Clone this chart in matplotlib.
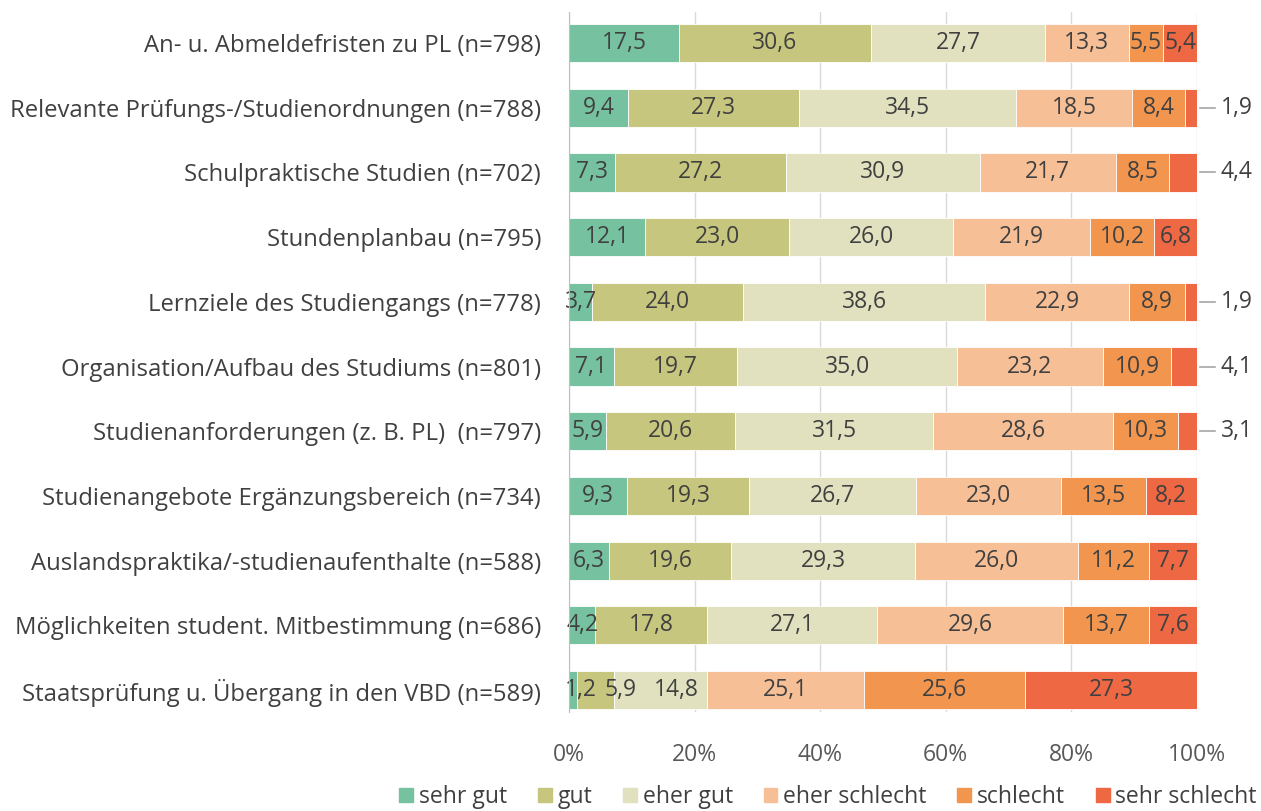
import matplotlib
matplotlib.use("Agg")
import matplotlib.pyplot as plt
import matplotlib.patches as mpatches
from matplotlib.ticker import FuncFormatter
import numpy as np

plt.rcParams["font.family"] = ["Open Sans", "DejaVu Sans"]

# ---- data ----
categories = [
    "An- u. Abmeldefristen zu PL (n=798)",
    "Relevante Prüfungs-/Studienordnungen (n=788)",
    "Schulpraktische Studien (n=702)",
    "Stundenplanbau (n=795)",
    "Lernziele des Studiengangs (n=778)",
    "Organisation/Aufbau des Studiums (n=801)",
    "Studienanforderungen (z. B. PL)  (n=797)",
    "Studienangebote Ergänzungsbereich (n=734)",
    "Auslandspraktika/-studienaufenthalte (n=588)",
    "Möglichkeiten student. Mitbestimmung (n=686)",
    "Staatsprüfung u. Übergang in den VBD (n=589)",
]
series = ["sehr gut", "gut", "eher gut", "eher schlecht", "schlecht", "sehr schlecht"]
sehr_gut = [17.5, 9.4, 7.3, 12.1, 3.7, 7.1, 5.9, 9.3, 6.3, 4.2, 1.2]
gut = [30.6, 27.3, 27.2, 23.0, 24.0, 19.7, 20.6, 19.3, 19.6, 17.8, 5.9]
eher_gut = [27.7, 34.5, 30.9, 26.0, 38.6, 35.0, 31.5, 26.7, 29.3, 27.1, 14.8]
eher_schlecht = [13.3, 18.5, 21.7, 21.9, 22.9, 23.2, 28.6, 23.0, 26.0, 29.6, 25.1]
schlecht = [5.5, 8.4, 8.5, 10.2, 8.9, 10.9, 10.3, 13.5, 11.2, 13.7, 25.6]
sehr_schlecht = [5.4, 1.9, 4.4, 6.8, 1.9, 4.1, 3.1, 8.2, 7.7, 7.6, 27.3]
# rows whose last value is written outside the bar with a leader line
outside_last = [False, True, True, False, True, True, True, False, False, False, False]

colors = ["#76C2A0", "#C6C67F", "#E1E1C0", "#F7BF96", "#F2964F", "#EE6843"]
TXT = "#404040"
FS = 16.5

# label nudges (points) for crowded labels: (row, series) -> dx
nudge = {(10, 0): 6, (10, 1): 18, (10, 2): 12}

values = np.array([sehr_gut, gut, eher_gut, eher_schlecht, schlecht, sehr_schlecht])
shares = values / values.sum(axis=0) * 100

fig = plt.figure(figsize=(12.61, 8.11), dpi=100)
ax = fig.add_axes([569 / 1261, 99 / 811, 628 / 1261, 700 / 811])

y = np.arange(len(categories))
left = np.zeros(len(categories))
for i, name in enumerate(series):
    ax.barh(y, shares[i], left=left, height=0.59, color=colors[i],
            edgecolor="white", linewidth=0.6, zorder=3, label=name)
    for j in range(len(categories)):
        lab = f"{values[i][j]:.1f}".replace(".", ",")
        if i == len(series) - 1 and outside_last[j]:
            ax.plot([100.5, 102.8], [j, j], color="#A6A6A6", lw=1.2,
                    clip_on=False, zorder=4)
            ax.text(103.8, j, lab, ha="left", va="center", fontsize=FS, color=TXT)
        else:
            ax.annotate(lab, (left[j] + shares[i][j] / 2, j),
                        xytext=(nudge.get((j, i), 0), 0), textcoords="offset points",
                        ha="center", va="center", fontsize=FS, color=TXT, zorder=5)
    left += shares[i]

ax.set_xlim(0, 100)
ax.set_ylim(10.34, -0.48)
ax.set_yticks(y)
ax.set_yticklabels(categories, fontsize=17.2, color=TXT)
ax.set_xticks(np.arange(0, 101, 20))
ax.xaxis.set_major_formatter(FuncFormatter(lambda v, p: f"{v:.0f}%"))
ax.tick_params(axis="x", labelsize=FS, labelcolor="#595959", length=0, pad=22)
ax.tick_params(axis="y", length=0, pad=20)
ax.grid(axis="x", color="#D9D9D9", lw=1, zorder=0)
for s in ["top", "right", "bottom"]:
    ax.spines[s].set_visible(False)
ax.spines["left"].set_color("#BFBFBF")
ax.spines["left"].set_zorder(6)

handles = [mpatches.Patch(color=c, label=s) for c, s in zip(colors, series)]
fig.legend(handles=handles, loc="center", bbox_to_anchor=(828 / 1261, 1 - 797 / 811),
           ncol=6, frameon=False, fontsize=FS, labelcolor=TXT,
           handlelength=0.6, handleheight=0.6, handletextpad=0.25,
           columnspacing=1.35, borderpad=0)

fig.savefig("out.png", dpi=100, facecolor="white")
